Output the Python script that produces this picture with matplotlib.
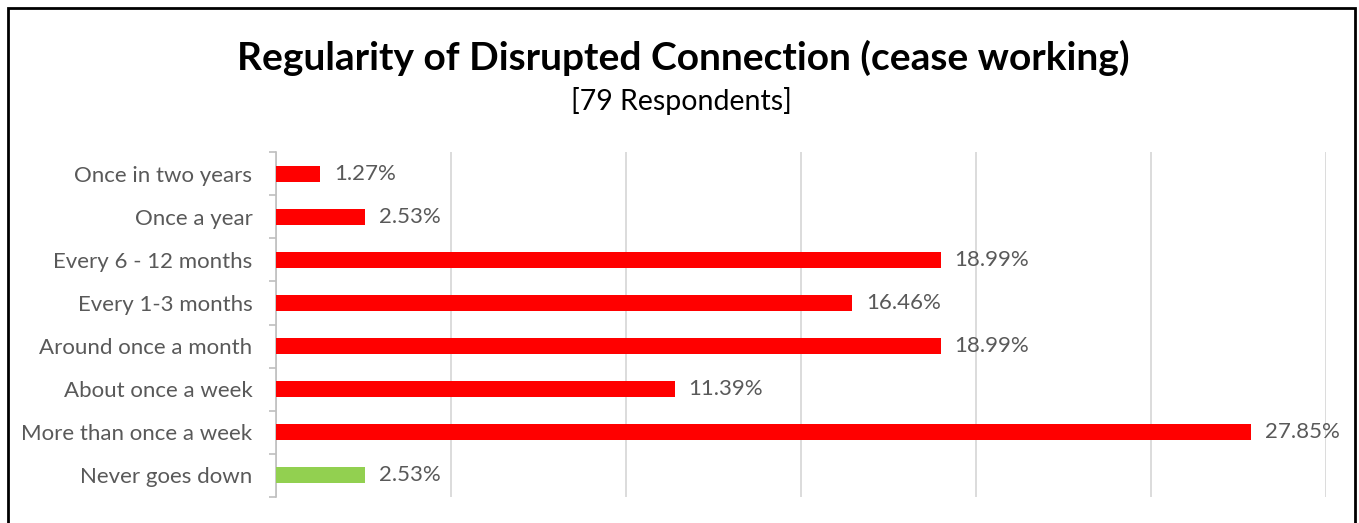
import numpy as np
import matplotlib.pyplot as plt
from matplotlib.patches import Rectangle

plt.rcParams['font.family'] = ['Lato', 'DejaVu Sans']

categories = ['Once in two years', 'Once a year', 'Every 6 - 12 months',
              'Every 1-3 months', 'Around once a month', 'About once a week',
              'More than once a week', 'Never goes down']
values = [1.27, 2.53, 18.99, 16.46, 18.99, 11.39, 27.85, 2.53]
colors = ['#ff0000'] * 7 + ['#92d050']

fig = plt.figure(figsize=(13.59, 5.23), dpi=100)
ax = fig.add_axes([276 / 1359, 1 - 497 / 523, 1050 / 1359, 345 / 523])

y = np.arange(len(categories))
ax.barh(y, values, height=0.37, color=colors, zorder=3)
for yi, v in zip(y, values):
    ax.text(v + 0.4, yi, f'{v:.2f}%', va='center', ha='left',
            fontsize=16, color='#595959')

ax.set_xlim(0, 30)
ax.set_ylim(len(categories) - 0.5, -0.5)
ax.set_xticks(np.arange(0, 31, 5))
ax.tick_params(axis='x', length=0, labelbottom=False)
ax.grid(axis='x', color='#d9d9d9', linewidth=1.3, zorder=0)

ax.set_yticks(y)
ax.set_yticklabels(categories, fontsize=16, color='#595959')
ax.set_yticks(np.arange(-0.5, len(categories)), minor=True)
ax.tick_params(axis='y', which='major', length=0, pad=17)
ax.tick_params(axis='y', which='minor', length=5, color='#bfbfbf', width=1.2)

for s in ['top', 'right', 'bottom']:
    ax.spines[s].set_visible(False)
ax.spines['left'].set_color('#bfbfbf')
ax.spines['left'].set_linewidth(1.2)

fig.text(683 / 1359, 1 - 58 / 523, 'Regularity of Disrupted Connection (cease working)',
         ha='center', va='center', fontsize=28, fontweight='bold', color='black')
fig.text(681 / 1359, 1 - 101 / 523, '[79 Respondents]',
         ha='center', va='center', fontsize=20.5, color='black')

fig.patches.append(Rectangle((8 / 1359, -0.01), 1347 / 1359, 1 - 8 / 523 + 0.01,
                             transform=fig.transFigure, fill=False,
                             edgecolor='black', linewidth=2))

fig.savefig('out.png', dpi=100)
